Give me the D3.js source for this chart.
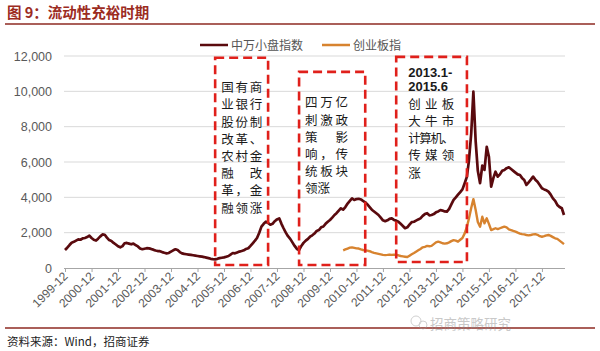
<html><head>
<meta charset="utf-8">
<script src="https://d3js.org/d3.v7.min.js"></script>
<style>
  body { margin: 0; background: #fff; }
  text { font-family: "Noto Sans CJK SC", "Noto Sans", sans-serif; }
  .num { font-family: "Liberation Sans", Arial, sans-serif; }
</style>
</head>
<body>
<svg id="chart" width="600" height="351"></svg>
<script>
  // monthly closes
  const smallCapStart = "1999-12";
  const smallCap = [1020,
    1150, 1300, 1430, 1480, 1550, 1620, 1600, 1680, 1700, 1750, 1830, 1700,
    1600, 1550, 1660, 1790, 1900, 1880, 1720, 1580, 1530, 1420, 1330, 1230,
    1170, 1240, 1400, 1420, 1380, 1340, 1380, 1300, 1220, 1100, 1060, 1090,
    1120, 1110, 1080, 1040, 990, 960, 950, 900, 860, 830, 850, 930,
    1000, 1060, 1020, 900, 830, 800, 780, 760, 740, 720, 700, 680,
    660, 640, 620, 590, 560, 520, 500, 490, 520, 560, 580, 600,
    640, 680, 760, 850, 830, 880, 930, 960, 1000, 1080, 1120, 1250,
    1400, 1550, 1700, 2000, 2340, 2500, 2620, 2550, 2450, 2500, 2650, 2750,
    2810, 2500, 2250, 2000, 1800, 1650, 1450, 1250, 1080, 1020, 1250, 1420,
    1550, 1650, 1770, 1850, 1950, 2100, 2150, 2300, 2350, 2500, 2620, 2720,
    2850, 3000, 3100, 3250, 3380, 3300, 3450, 3650, 3800, 3940, 3850, 3900,
    3920, 3880, 3800, 3720, 3600, 3450, 3300, 3200, 3100, 3000, 2850, 2700,
    2650, 2700, 2780, 2810, 2720, 2680, 2620, 2500, 2380, 2250, 2300, 2450,
    2600, 2620, 2680, 2750, 2810, 2950, 3050, 3100, 2980, 3000, 3050, 3150,
    3200, 3280, 3250, 3200, 3190, 3350, 3600, 3850, 4000, 4150, 4300, 4450,
    4800, 5170, 6100, 7600, 9980, 7200, 5500, 4800, 5800, 5550, 6860, 6300,
    4600, 5100, 5450, 5170, 5300, 5500, 5550, 5650, 5700, 5600, 5500, 5400,
    5300, 5260, 5100, 4980, 4700, 4850, 5000, 5170, 5000, 4880, 4700, 4510,
    4450, 4400, 4320, 4150, 3940, 3800, 3570, 3450, 3380, 3000];

  const chinextStart = "2010-06";
  const chinext = [1000, 1050, 1100, 1150, 1170, 1140, 1110,
    1100, 1050, 1020, 1000, 980, 950, 900, 860, 830, 800, 770, 740,
    730, 740, 760, 740, 750, 740, 720, 680, 660, 640, 620, 700,
    780, 850, 920, 1000, 1080, 1170, 1200, 1250, 1230, 1250, 1350, 1450,
    1490, 1450, 1400, 1380, 1400, 1450, 1520, 1580, 1550, 1490, 1600, 1700,
    1960, 2340, 2800, 3400, 3900, 3300, 2600, 2340, 2900, 2530, 2810, 2500,
    2150, 2200, 2250, 2200, 2250, 2300, 2340, 2300, 2190, 2150, 2100, 2060,
    2000, 1950, 1920, 1900, 1870, 1850, 1870, 1900, 1920, 1880, 1800, 1770,
    1800, 1850, 1870, 1820, 1750, 1680, 1650, 1550, 1450, 1350];

  const seriesNames = ["中万小盘指数", "创业板指"];
  const yTicks = [0, 2000, 4000, 6000, 8000, 10000, 12000];
  const xTickYears = d3.range(1999, 2018);

  // annotation boxes: date span and value span
  const boxSpans = [
    ["2005-08", "2007-08", 11900, 170],
    ["2008-10", "2011-04", 11100, 170],
    ["2012-06", "2015-02", 11950, 340]
  ];
  const boxLines = [
    ["国有商", "业银行", "股份制", "改革、", "农村金", "融　改", "革，金", "融领涨"],
    ["四万亿", "刺激政", "策　影", "响，传", "统板块", "领涨"],
    ["2013.1-", "2015.6", "创业板", "大牛市", "计算机、", "传媒领", "涨"]
  ];

  const draw = function() {
    const svg = d3.select("svg#chart");
    const parse = d3.timeParse("%Y-%m");

    const x = d3.scaleTime()
      .domain([parse("1999-12"), new Date(2018, 9, 15)])
      .range([65, 565]);
    const y = d3.scaleLinear().domain([0, 12000]).range([268, 56]);

    const toPoints = (start, vals) => vals.map((v, i) => ({
      date: d3.timeMonth.offset(parse(start), i), value: v }));
    const smallPts = toPoints(smallCapStart, smallCap);
    const cnPts = toPoints(chinextStart, chinext);

    // title
    svg.append("text").attr("x", 7).attr("y", 18)
      .attr("font-size", 14.5).attr("font-weight", "bold").attr("fill", "#9c2c1f")
      .text("图 9：流动性充裕时期");
    svg.append("line").attr("x1", 5).attr("x2", 595).attr("y1", 24).attr("y2", 24)
      .attr("stroke", "#8e2a22").attr("stroke-width", 1.5);

    // gridlines + y labels
    svg.append("g").selectAll("line").data(yTicks.slice(1)).join("line")
      .attr("x1", 64).attr("x2", 565)
      .attr("y1", d => y(d)).attr("y2", d => y(d))
      .attr("stroke", "#d9d9d9").attr("stroke-width", 1);

    svg.append("g").selectAll("text").data(yTicks).join("text")
      .attr("class", "num")
      .attr("x", 52).attr("y", d => y(d) + 4.5)
      .attr("text-anchor", "end").attr("font-size", 12.5).attr("fill", "#595959")
      .text(d => d3.format(",")(d));

    // x axis
    const xAxis = d3.axisBottom(x)
      .tickValues(xTickYears.map(yr => new Date(yr, 11, 1)))
      .tickFormat(d3.timeFormat("%Y-%m"))
      .tickSize(4).tickSizeOuter(0);
    const gx = svg.append("g").attr("transform", "translate(0,268)").call(xAxis);
    gx.select(".domain").attr("stroke", "#a6a6a6").attr("d", "M64,0.5H565");
    gx.selectAll(".tick line").attr("stroke", "#a6a6a6");
    gx.selectAll(".tick text")
      .attr("class", "num")
      .attr("font-size", 12).attr("fill", "#595959")
      .attr("text-anchor", "end")
      .attr("dy", null).attr("y", 0)
      .attr("transform", "translate(3,9) rotate(-45)");

    // lines
    const line = d3.line().x(d => x(d.date)).y(d => y(d.value));
    svg.append("path").datum(cnPts).attr("d", line)
      .attr("fill", "none").attr("stroke", "#d7832f").attr("stroke-width", 2.4)
      .attr("stroke-linejoin", "round");
    svg.append("path").datum(smallPts).attr("d", line)
      .attr("fill", "none").attr("stroke", "#5a0a0e").attr("stroke-width", 2.7)
      .attr("stroke-linejoin", "round");

    // legend
    const legColors = ["#5a0a0e", "#d7832f"];
    const leg = svg.append("g").selectAll("g").data(seriesNames).join("g")
      .attr("transform", (d, i) => `translate(${[200, 322][i]},45)`);
    leg.append("line").attr("x1", 0).attr("x2", 28)
      .attr("stroke", (d, i) => legColors[i]).attr("stroke-width", 2.5);
    leg.append("text").attr("x", 31).attr("y", 4.5)
      .attr("font-size", 12).attr("fill", "#555").text(d => d);

    // annotation boxes
    const topOffset = [30, 31, 15.5];
    const lineWidth = [41, 43, 46];
    boxSpans.forEach((b, i) => {
      const x0 = x(parse(b[0])), x1 = x(parse(b[1]));
      const y0 = y(b[2]), y1 = y(b[3]);
      svg.append("rect").attr("x", x0).attr("y", y0)
        .attr("width", x1 - x0).attr("height", y1 - y0)
        .attr("fill", "none").attr("stroke", "#e0201b")
        .attr("stroke-width", 2.6).attr("stroke-dasharray", "9,5");

      const tx = x0 + (i == 2 ? 12 : 6);
      let ty = y0 + topOffset[i];
      let prevBold = false;
      boxLines[i].forEach((s, j) => {
        const bold = /^\d/.test(s);
        if (prevBold && !bold) ty += 3;
        const t = svg.append("text").attr("x", tx).attr("y", ty + 4.5)
          .attr("fill", "#1a1a1a").text(s);
        if (bold) {
          t.attr("class", "num").attr("font-weight", "bold").attr("font-size", 13);
          ty += 14.5;
        } else {
          t.attr("font-size", 12.5);
          if (s.length >= 3) t.attr("textLength", lineWidth[i]).attr("lengthAdjust", "spacing");
          ty += 17.2;
        }
        prevBold = bold;
      });
    });

    // footer
    svg.append("line").attr("x1", 5).attr("x2", 595).attr("y1", 328).attr("y2", 328)
      .attr("stroke", "#8e2a22").attr("stroke-width", 1.5);
    svg.append("text").attr("x", 7).attr("y", 346)
      .attr("font-size", 11.5).attr("fill", "#222")
      .text("资料来源：Wind，招商证券");

    // watermark
    const wm = svg.append("g").attr("opacity", 0.45);
    wm.append("circle").attr("cx", 416).attr("cy", 321).attr("r", 5)
      .attr("fill", "none").attr("stroke", "#999");
    wm.append("circle").attr("cx", 423).attr("cy", 325).attr("r", 4)
      .attr("fill", "none").attr("stroke", "#999");
    wm.append("text").attr("x", 430).attr("y", 329)
      .attr("font-size", 13.5).attr("fill", "#888").text("招商策略研究");
  };
  draw();
</script>
</body>
</html>
